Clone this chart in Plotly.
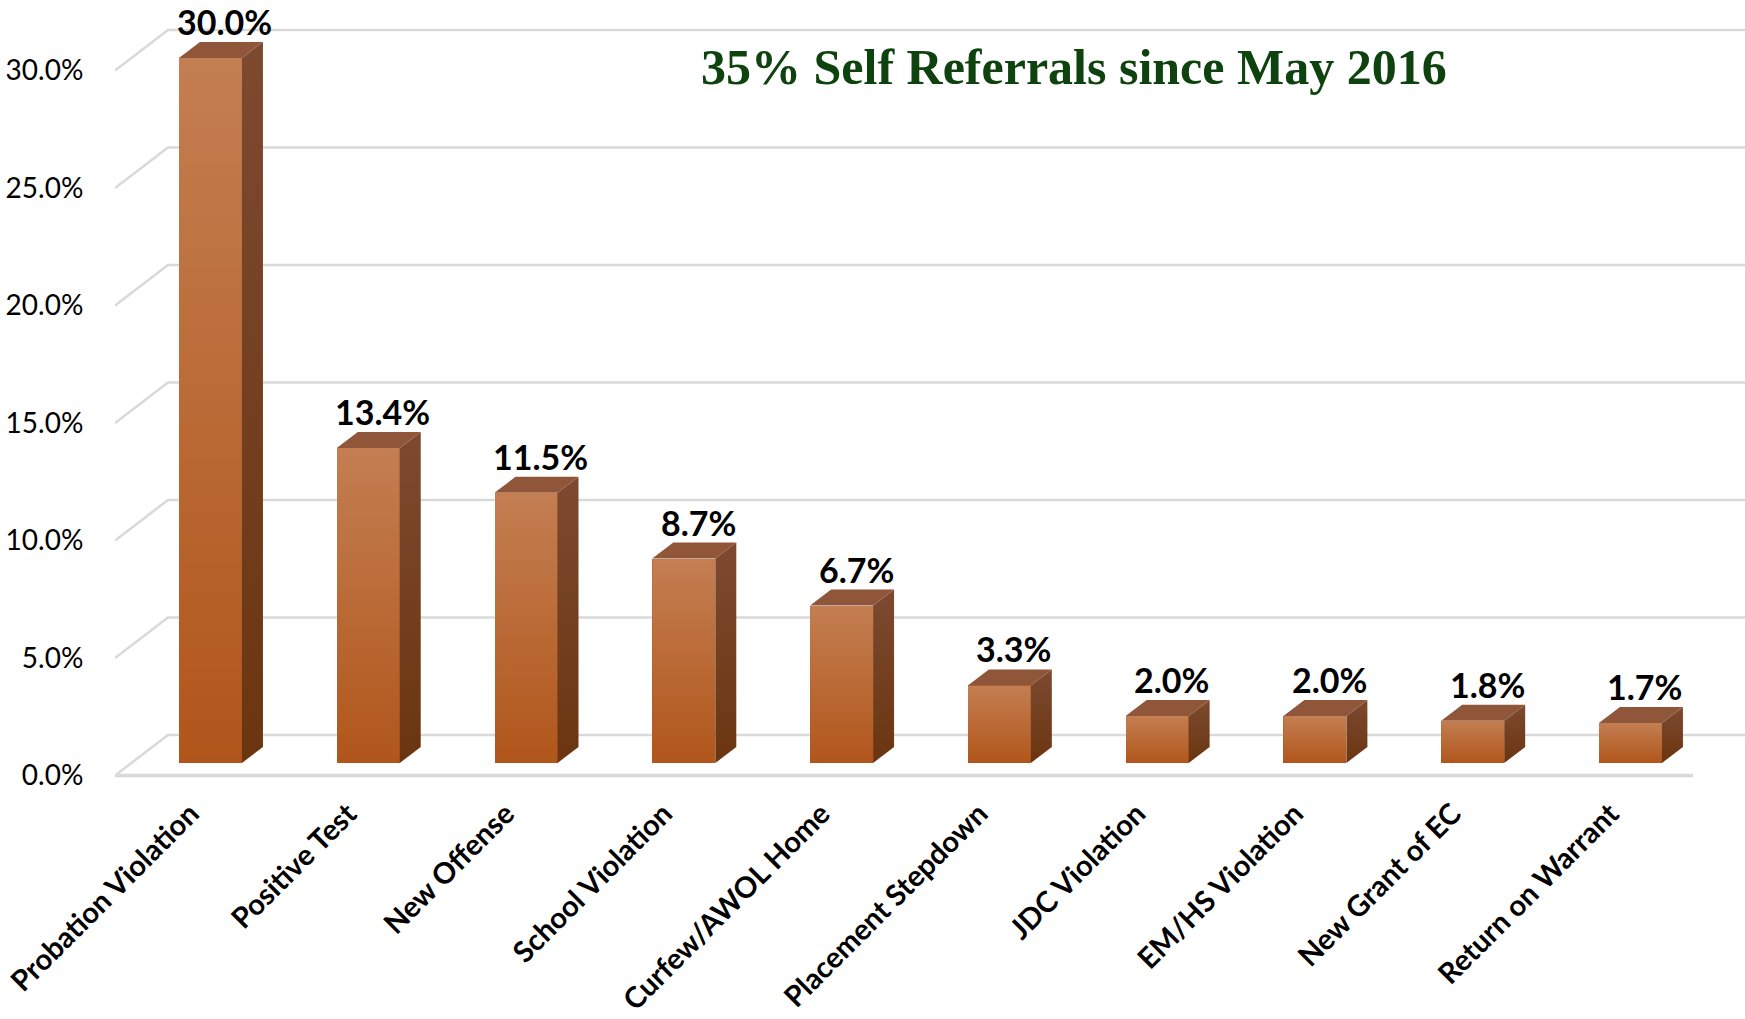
import plotly.graph_objects as go

# ---------------- data ----------------
categories = ["Probation Violation", "Positive Test", "New Offense", "School Violation",
              "Curfew/AWOL Home", "Placement Stepdown", "JDC Violation", "EM/HS Violation",
              "New Grant of EC", "Return on Warrant"]
values = [30.0, 13.4, 11.5, 8.7, 6.7, 3.3, 2.0, 2.0, 1.8, 1.7]
y_ticks = [0, 5, 10, 15, 20, 25, 30]
y_tick_labels = ["0.0%", "5.0%", "10.0%", "15.0%", "20.0%", "25.0%", "30.0%"]
title_text = "35% Self Referrals since May 2016"

# ---------------- geometry / style ----------------
W, H = 1745, 1019
ML, MB = 115, 229
X_RANGE = [-0.605, 9.726]
Y_RANGE = [-1.149, 32.47]
px_x = (W - ML) / (X_RANGE[1] - X_RANGE[0])
px_y = (H - MB) / (Y_RANGE[1] - Y_RANGE[0])

BAR_W = 63 / px_x
BAR_DX = 21 / px_x
BAR_DY = 16 / px_y
WALL_DX = 53 / px_x
FRONT_OFF = -12.5 / px_y
BACK_OFF = 28 / px_y
FLOOR_END = X_RANGE[0] + (1693 - ML) / px_x
LABEL_SHIFT = 20 / px_x

GRID = "#d9d9d9"
FRONT_BASE = "#b1561b"
SIDE_BOTTOM = "#6b3510"
SIDE_TOP = "#7d4a31"
TOP_FACE = "#90563a"

idx = list(range(len(categories)))

fig = go.Figure()

# wall / floor gridlines (behind the bars)
shapes = []
for v in y_ticks:
    x0f = X_RANGE[0]
    x0b = X_RANGE[0] + WALL_DX
    path = (f"M {x0f},{v + FRONT_OFF} L {x0b},{v + BACK_OFF} "
            f"L {X_RANGE[1] + 0.2},{v + BACK_OFF}")
    shapes.append(dict(type="path", path=path, xref="x", yref="y", layer="below",
                       line=dict(color=GRID, width=2.5)))
shapes.append(dict(type="line", xref="x", yref="y", layer="below",
                   x0=X_RANGE[0], x1=FLOOR_END, y0=y_ticks[0] + FRONT_OFF, y1=y_ticks[0] + FRONT_OFF,
                   line=dict(color=GRID, width=3.5)))

# front faces
fig.add_trace(go.Bar(x=idx, y=values, width=BAR_W, marker=dict(color=FRONT_BASE, line=dict(width=0)),
                     hovertemplate="%{text}: %{y:.1f}%<extra></extra>", text=categories,
                     textposition="none"))

for i, v in zip(idx, values):
    xl, xr = i - BAR_W / 2, i + BAR_W / 2
    # gradient highlight on the front face
    fig.add_trace(go.Scatter(
        x=[xl, xr, xr, xl, xl], y=[0, 0, v, v, 0], mode="lines", fill="toself",
        line=dict(width=0), hoverinfo="skip", showlegend=False,
        fillgradient=dict(type="vertical",
                          colorscale=[[0, "rgba(255,255,255,0)"], [1, "rgba(255,255,255,0.24)"]])))
    # side face
    fig.add_trace(go.Scatter(
        x=[xr, xr, xr + BAR_DX, xr + BAR_DX, xr], y=[0, v, v + BAR_DY, BAR_DY, 0],
        mode="lines", fill="toself", line=dict(width=0), hoverinfo="skip", showlegend=False,
        fillgradient=dict(type="vertical", colorscale=[[0, SIDE_BOTTOM], [1, SIDE_TOP]])))
    # top face
    fig.add_trace(go.Scatter(
        x=[xl, xr, xr + BAR_DX, xl + BAR_DX, xl], y=[v, v, v + BAR_DY, v + BAR_DY, v],
        mode="lines", fill="toself", fillcolor=TOP_FACE, line=dict(width=0),
        hoverinfo="skip", showlegend=False))

annotations = []
for i, v in zip(idx, values):
    annotations.append(dict(x=i + BAR_DX / 2, y=v + BAR_DY, xref="x", yref="y",
                            text=f"<b>{v:.1f}%</b>", showarrow=False, yanchor="bottom",
                            xanchor="center", xshift=4, yshift=-2,
                            font=dict(family="Lato", size=34, color="black")))
annotations.append(dict(x=(1074 - ML) / (W - ML), y=(H - MB - 67) / (H - MB), xref="paper", yref="paper",
                        text=f"<b>{title_text}</b>", showarrow=False, xanchor="center", yanchor="middle",
                        font=dict(family="Liberation Serif", size=50, color="#0e420e")))

fig.update_layout(
    width=W, height=H,
    margin=dict(l=ML, r=0, t=0, b=MB, pad=0, autoexpand=False),
    paper_bgcolor="white", plot_bgcolor="white",
    showlegend=False, bargap=0,
    shapes=shapes, annotations=annotations,
    xaxis=dict(range=X_RANGE, tickmode="array", tickvals=[i - LABEL_SHIFT for i in idx],
               ticktext=categories, automargin=False, ticklabeloverflow="allow",
               tickangle=-45, showgrid=False, zeroline=False, showline=False, ticks="",
               tickfont=dict(family="Lato", size=29, color="black", weight="bold")),
    yaxis=dict(range=Y_RANGE, tickmode="array", automargin=False, ticklabeloverflow="allow",
               tickvals=[v + FRONT_OFF for v in y_ticks], ticktext=y_tick_labels,
               showgrid=False, zeroline=False, showline=False,
               ticks="outside", ticklen=25, tickcolor="rgba(0,0,0,0)",
               tickfont=dict(family="Lato", size=28, color="black")),
)

fig.write_html("out.html", config={"displayModeBar": False},
               post_script="document.body.style.margin='0';document.body.style.overflow='hidden';")
